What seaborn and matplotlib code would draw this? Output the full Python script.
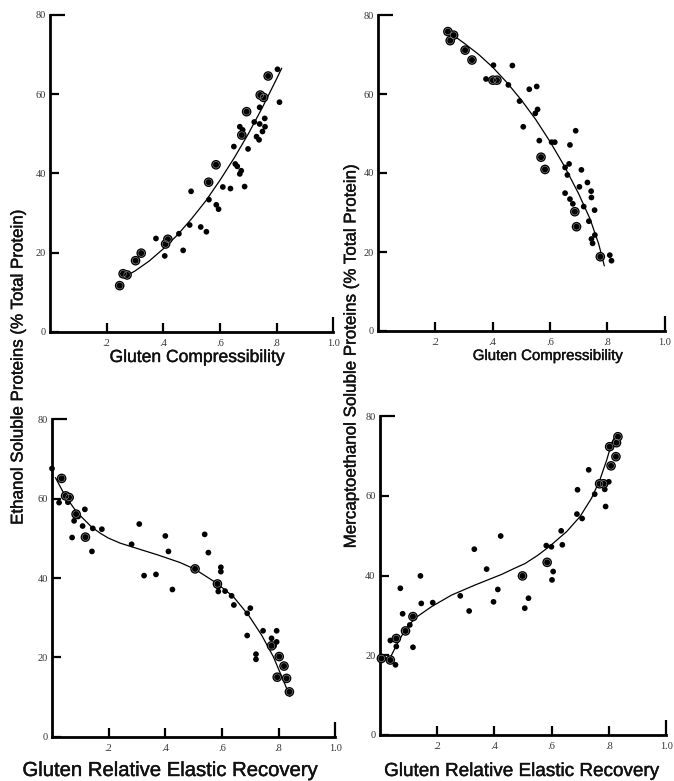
import matplotlib
matplotlib.use("Agg")
import matplotlib.pyplot as plt
import matplotlib.patheffects as pe
import seaborn as sns
import pandas as pd

sns.set_style("white")
plt.rcParams["font.family"] = ["Liberation Sans", "DejaVu Sans"]

# ---------------- data ----------------
# Panel A: Gluten compressibility vs ethanol soluble proteins
a_small_x = [0.374, 0.405, 0.455, 0.470, 0.493, 0.498, 0.532, 0.552, 0.561, 0.587, 0.595, 0.610,
             0.637, 0.649, 0.654, 0.661, 0.670, 0.675, 0.687, 0.670, 0.680, 0.699, 0.721, 0.729,
             0.738, 0.740, 0.740, 0.750, 0.758, 0.759, 0.803, 0.810, 0.745]
a_small_y = [23.6, 19.2, 24.8, 20.6, 27.0, 35.5, 26.5, 25.3, 33.4, 32.1, 31.0, 36.6,
             36.2, 46.8, 42.4, 41.8, 39.9, 40.7, 36.7, 51.8, 51.0, 46.2, 53.0, 49.3,
             48.5, 52.5, 56.7, 50.6, 53.9, 51.8, 66.3, 58.0, 59.8]
a_big_x = [0.246, 0.258, 0.272, 0.302, 0.322, 0.408, 0.416, 0.560, 0.586, 0.677, 0.694, 0.742, 0.754, 0.770]
a_big_y = [11.7, 14.7, 14.4, 18.0, 19.9, 22.2, 23.4, 37.8, 42.2, 49.7, 55.6, 59.8, 59.2, 64.6]
a_curve_x = [0.265, 0.30, 0.35, 0.40, 0.45, 0.50, 0.55, 0.60, 0.65, 0.70, 0.75, 0.80, 0.818]
a_curve_y = [14.0, 15.4, 17.9, 21.0, 24.5, 28.6, 33.1, 38.3, 43.9, 50.0, 56.7, 63.9, 66.6]

# Panel B: Gluten compressibility vs mercaptoethanol soluble proteins
b_small_x = [0.377, 0.403, 0.469, 0.455, 0.494, 0.507, 0.528, 0.554, 0.549, 0.557, 0.563, 0.606,
             0.617, 0.670, 0.690, 0.653, 0.667, 0.661, 0.653, 0.670, 0.680, 0.710, 0.703, 0.718,
             0.731, 0.744, 0.745, 0.756, 0.736, 0.745, 0.749, 0.757, 0.809, 0.815]
b_small_y = [63.8, 67.3, 67.2, 62.3, 58.2, 51.7, 61.2, 61.9, 55.1, 56.1, 48.2, 47.8,
             47.8, 47.1, 50.7, 41.4, 42.3, 39.5, 34.9, 33.4, 32.2, 40.8, 36.5, 31.5,
             37.6, 35.4, 33.8, 30.6, 27.8, 23.3, 22.2, 24.3, 19.2, 17.8]
b_big_x = [0.244, 0.252, 0.264, 0.304, 0.328, 0.401, 0.415, 0.569, 0.583, 0.687, 0.693, 0.776]
b_big_y = [75.8, 73.5, 74.9, 71.1, 68.6, 63.5, 63.5, 44.0, 40.9, 30.2, 26.4, 18.8]
b_curve_x = [0.262, 0.30, 0.35, 0.40, 0.45, 0.50, 0.55, 0.60, 0.65, 0.70, 0.74, 0.77, 0.79]
b_curve_y = [74.9, 72.9, 70.1, 66.8, 62.9, 58.5, 53.6, 48.0, 41.8, 34.8, 28.4, 22.1, 16.5]

# Panel C: Relative elastic recovery vs ethanol soluble proteins
c_small_x = [0.0, 0.025, 0.056, 0.067, 0.078, 0.071, 0.092, 0.108, 0.116, 0.144, 0.141, 0.176,
             0.281, 0.308, 0.325, 0.367, 0.400, 0.411, 0.425, 0.539, 0.552, 0.596, 0.596, 0.587,
             0.587, 0.611, 0.634, 0.642, 0.689, 0.700, 0.689, 0.720, 0.720, 0.745, 0.775, 0.793,
             0.793, 0.784]
c_small_y = [67.6, 59.0, 59.1, 60.3, 54.4, 50.2, 55.5, 53.1, 57.3, 52.5, 46.7, 52.3,
             48.5, 53.6, 40.6, 40.9, 50.6, 46.7, 37.1, 51.0, 46.4, 42.7, 41.6, 37.8,
             36.6, 36.7, 35.5, 33.2, 31.1, 32.4, 25.5, 20.8, 19.5, 26.7, 24.8, 26.7,
             23.9, 22.9]
c_big_x = [0.034, 0.048, 0.060, 0.085, 0.118, 0.505, 0.584, 0.775, 0.802, 0.819, 0.795, 0.828, 0.838]
c_big_y = [65.1, 60.7, 60.3, 56.1, 50.3, 42.3, 38.5, 22.9, 20.2, 17.8, 15.0, 14.7, 11.3]
c_curve_x = [0.012, 0.045, 0.086, 0.139, 0.170, 0.198, 0.240, 0.280, 0.374, 0.452, 0.505, 0.581,
             0.640, 0.693, 0.740, 0.781, 0.816, 0.840]
c_curve_y = [65.3, 60.9, 56.7, 52.9, 51.3, 50.1, 48.8, 47.9, 45.8, 43.9, 42.2, 38.7,
             35.3, 30.7, 25.6, 20.2, 14.3, 10.1]

# Panel D: Relative elastic recovery vs mercaptoethanol soluble proteins
d_small_x = [0.037, 0.055, 0.058, 0.072, 0.080, 0.105, 0.116, 0.142, 0.145, 0.185, 0.281, 0.312,
             0.330, 0.373, 0.397, 0.412, 0.422, 0.506, 0.519, 0.581, 0.599, 0.605, 0.601, 0.633,
             0.637, 0.688, 0.706, 0.690, 0.729, 0.750, 0.764, 0.785, 0.788, 0.799]
d_small_y = [23.7, 17.6, 22.2, 36.8, 30.4, 27.6, 22.0, 39.9, 33.0, 33.2, 34.9, 31.1,
             46.6, 41.6, 33.4, 36.5, 49.9, 31.8, 34.3, 47.5, 47.2, 41.0, 38.9, 51.2,
             47.7, 55.4, 54.3, 61.5, 66.5, 60.4, 63.3, 61.6, 57.3, 63.5]
d_big_x = [0.006, 0.037, 0.058, 0.090, 0.116, 0.498, 0.584, 0.767, 0.781, 0.802, 0.807, 0.824, 0.826, 0.831]
d_big_y = [19.2, 18.8, 24.2, 26.1, 29.7, 39.9, 43.3, 63.0, 63.0, 72.3, 67.5, 69.8, 73.3, 74.8]
d_curve_x = [0.030, 0.059, 0.088, 0.123, 0.181, 0.251, 0.332, 0.426, 0.470, 0.507, 0.550, 0.594,
             0.652, 0.699, 0.739, 0.768, 0.792, 0.809, 0.827]
d_curve_y = [18.4, 22.6, 26.3, 29.3, 32.2, 35.1, 37.6, 40.3, 41.8, 43.0, 45.0, 47.4,
             51.0, 54.8, 59.4, 64.0, 69.0, 73.2, 75.7]

x_ticks = [0.2, 0.4, 0.6, 0.8, 1.0]
x_tick_labels = [".2", ".4", ".6", ".8", "1.0"]
y_ticks = [0, 20, 40, 60, 80]
y_tick_labels = ["0", "20", "40", "60", "80"]

x_label_top = "Gluten Compressibility"
x_label_bottom = "Gluten Relative Elastic Recovery"
y_label_left = "Ethanol Soluble Proteins (% Total Protein)"
y_label_right = "Mercaptoethanol Soluble Proteins (% Total Protein)"

# ---------------- figure ----------------
W, H = 674, 781
fig = plt.figure(figsize=(W / 100, H / 100), dpi=100)


def box(x0, y_bottom, x1, y_top):
    return [x0 / W, 1 - y_bottom / H, (x1 - x0) / W, (y_bottom - y_top) / H]


def panel(rect, sx, sy, bx, by, cx, cy):
    ax = fig.add_axes(rect)
    df = pd.DataFrame({"x": sx + bx, "y": sy + by,
                       "kind": ["small"] * len(sx) + ["big"] * len(bx)})
    sns.lineplot(x=cx, y=cy, sort=False, estimator=None, color="black",
                 linewidth=0.9, ax=ax)
    sns.scatterplot(data=df, x="x", y="y", size="kind",
                    sizes={"small": 17, "big": 48}, color="black",
                    linewidth=0, legend=False, ax=ax, clip_on=False, zorder=3)
    ax.scatter(bx, by, s=22, facecolors="none", edgecolors="#9a9a9a",
               linewidths=0.4, zorder=4, clip_on=False)
    ax.set_xlim(0, 1)
    ax.set_ylim(0, 80)
    ax.set_xticks(x_ticks)
    ax.set_xticklabels(x_tick_labels)
    ax.set_yticks(y_ticks)
    ax.set_yticklabels(y_tick_labels)
    ax.set_xlabel("")
    ax.set_ylabel("")
    for s in ["top", "right"]:
        ax.spines[s].set_visible(False)
    for s in ["left", "bottom"]:
        ax.spines[s].set_linewidth(2.0)
        ax.spines[s].set_color("black")
    ax.tick_params(bottom=True, left=True, top=False, right=False,
                   direction="in", length=6.5, width=1.6, color="black",
                   labelsize=7.5, labelcolor="#333333")
    ax.tick_params(axis="x", pad=5)
    ax.tick_params(axis="y", pad=3)
    for lab in ax.get_xticklabels() + ax.get_yticklabels():
        lab.set_fontfamily(["Liberation Serif", "DejaVu Serif"])
    ax.yaxis.get_major_ticks()[-1].tick1line.set_markersize(11)
    ax.xaxis.get_major_ticks()[-1].tick1line.set_markersize(11)
    ax.patch.set_alpha(0)
    return ax


panel(box(50, 332, 333.3, 15), a_small_x, a_small_y, a_big_x, a_big_y, a_curve_x, a_curve_y)
panel(box(378, 331, 664.5, 15), b_small_x, b_small_y, b_big_x, b_big_y, b_curve_x, b_curve_y)
panel(box(52, 736.7, 335.3, 419.3), c_small_x, c_small_y, c_big_x, c_big_y, c_curve_x, c_curve_y)
panel(box(379.7, 735, 666.4, 416), d_small_x, d_small_y, d_big_x, d_big_y, d_curve_x, d_curve_y)

heavy = [pe.Stroke(linewidth=0.3, foreground="#111111"), pe.Normal()]


def ftext(x, y, s, size, **kw):
    fig.text(x / W, 1 - y / H, s, fontsize=size, color="#111111",
             path_effects=heavy, **kw)


ftext(197, 362, x_label_top, 12.6, ha="center", va="baseline")
ftext(548, 360, x_label_top, 10.8, ha="center", va="baseline")
ftext(170, 776, x_label_bottom, 14.6, ha="center", va="baseline")
ftext(521, 776, x_label_bottom, 13.6, ha="center", va="baseline")
ftext(18, 367, y_label_left, 12.2, ha="center", va="center", rotation=90)
ftext(351, 356, y_label_right, 12.2, ha="center", va="center", rotation=90)

fig.savefig("out.png", dpi=100, facecolor="white")
